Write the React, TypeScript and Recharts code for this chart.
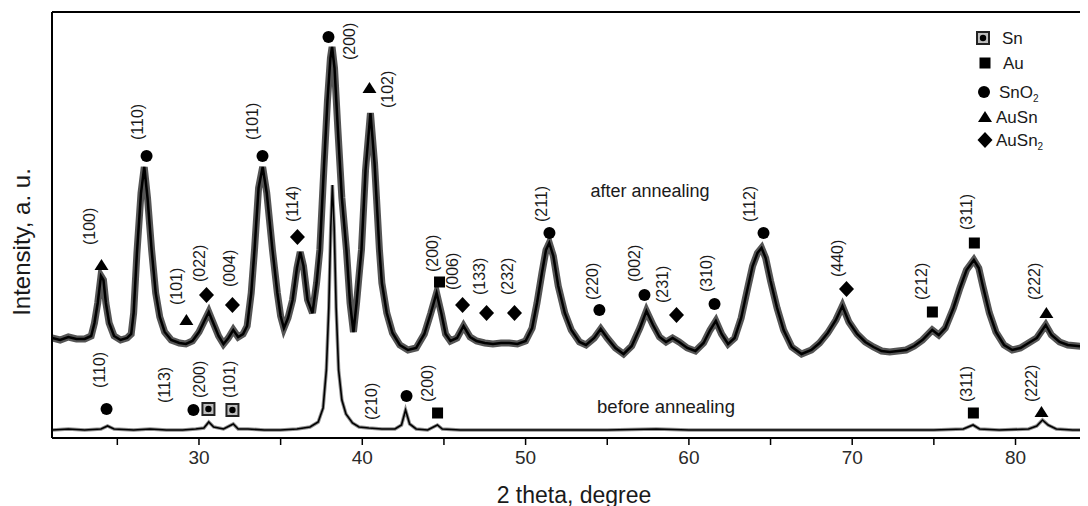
import React from 'react'
import {
  ComposedChart, Line, Scatter, XAxis, YAxis, ReferenceLine,
} from 'recharts'

// 2 theta (deg) vs intensity (a.u.)
const AFTER: [number, number][] = [
  [21.0, 100], [21.5, 98], [22.0, 101], [22.5, 99], [23.0, 99], [23.4, 102], [23.6, 115], [23.8, 135],
  [24.0, 162], [24.15, 158], [24.3, 135], [24.5, 115], [24.8, 102], [25.2, 98], [25.6, 100], [25.85, 104],
  [26.0, 125], [26.2, 185], [26.45, 245], [26.65, 271], [26.85, 240], [27.1, 188], [27.35, 145], [27.6, 121],
  [27.9, 106], [28.3, 98], [28.8, 95], [29.2, 94], [29.6, 97], [30.0, 106], [30.3, 116], [30.6, 126],
  [30.9, 114], [31.2, 102], [31.5, 94], [31.8, 100], [32.1, 108], [32.4, 101], [32.7, 104], [32.95, 112],
  [33.2, 145], [33.4, 188], [33.65, 250], [33.9, 271], [34.15, 245], [34.5, 188], [34.8, 145], [35.0, 122],
  [35.2, 110], [35.45, 120], [35.73, 138], [36.0, 170], [36.2, 186], [36.4, 172], [36.65, 138], [36.95, 125],
  [37.2, 155], [37.4, 188], [37.65, 270], [37.87, 338], [38.05, 380], [38.15, 391], [38.3, 370], [38.5, 310],
  [38.75, 240], [39.03, 188], [39.25, 135], [39.46, 106], [39.65, 135], [39.8, 162], [39.95, 188], [40.2, 268],
  [40.5, 325], [40.75, 275], [41.05, 188], [41.2, 155], [41.5, 125], [41.85, 105], [42.3, 93], [42.8, 88],
  [43.3, 90], [43.8, 104], [44.2, 125], [44.55, 145], [44.85, 124], [45.1, 104], [45.4, 97], [45.8, 100],
  [46.2, 112], [46.6, 101], [47.0, 97], [47.5, 95], [48.0, 94], [48.5, 95], [49.0, 95], [49.5, 94],
  [50.0, 97], [50.4, 110], [50.7, 135], [51.0, 165], [51.25, 188], [51.45, 195], [51.7, 182], [52.0, 152],
  [52.4, 125], [52.8, 108], [53.3, 96], [53.7, 93], [54.2, 100], [54.6, 109], [55.0, 100], [55.5, 90],
  [56.0, 84], [56.5, 92], [57.0, 110], [57.4, 127], [57.8, 113], [58.2, 101], [58.6, 96], [59.0, 100],
  [59.4, 96], [59.9, 90], [60.4, 87], [60.9, 95], [61.3, 108], [61.65, 117], [62.0, 104], [62.4, 94],
  [62.8, 100], [63.2, 120], [63.6, 150], [63.9, 172], [64.2, 185], [64.45, 190], [64.7, 180], [65.0, 157],
  [65.4, 130], [65.8, 108], [66.3, 91], [66.9, 84], [67.5, 88], [68.0, 95], [68.5, 105], [69.0, 118],
  [69.4, 132], [69.8, 116], [70.3, 104], [70.8, 96], [71.3, 91], [71.8, 87], [72.3, 86], [72.8, 87],
  [73.3, 88], [73.8, 92], [74.3, 98], [74.9, 108], [75.3, 103], [75.7, 110], [76.2, 130], [76.6, 150],
  [77.0, 168], [77.45, 178], [77.75, 170], [78.0, 152], [78.4, 125], [78.8, 106], [79.3, 93], [79.8, 88],
  [80.3, 90], [80.8, 95], [81.3, 100], [81.85, 113], [82.2, 103], [82.7, 96], [83.2, 93], [83.8, 92], [84.5, 91],
]

const BEFORE: [number, number][] = [
  [21, 8], [22, 9], [23, 8], [24, 9], [24.4, 12], [24.8, 9], [26, 8], [27, 9], [28, 8], [29, 8],
  [29.8, 9], [30.3, 10], [30.6, 16], [30.9, 11], [31.5, 9], [32.1, 14], [32.4, 9], [33, 9], [34, 8],
  [35, 8], [36, 9], [36.8, 11], [37.3, 16], [37.6, 30], [37.8, 68], [37.95, 130], [38.07, 210],
  [38.17, 253], [38.28, 210], [38.4, 130], [38.55, 68], [38.75, 38], [39.0, 24], [39.4, 15], [39.8, 11],
  [40.4, 10], [41.2, 9], [42.0, 9], [42.4, 13], [42.65, 28], [42.9, 14], [43.3, 9], [44.0, 8], [44.6, 13],
  [44.9, 9], [46, 8], [48, 8], [50, 8], [52, 8], [55, 8], [58, 9], [60, 8], [63, 8], [66, 8], [69, 8],
  [72, 8], [75, 8], [76.8, 9], [77.4, 13], [77.8, 9], [79, 8], [80.8, 9], [81.3, 12], [81.65, 18],
  [82.0, 13], [82.5, 9], [83.5, 8], [84.5, 8],
]

// peak markers: [2theta, intensity, phase, hkl]
const PEAKS: [number, number, string, string][] = [
  [24.03, 173, 'AuSn', '(100)'],
  [26.79, 282, 'SnO2', '(110)'],
  [29.23, 118, 'AuSn', '(101)'],
  [30.46, 143, 'AuSn2', '(022)'],
  [32.05, 133, 'AuSn2', '(004)'],
  [33.89, 282, 'SnO2', '(101)'],
  [36.03, 201, 'AuSn2', '(114)'],
  [37.93, 401, 'SnO2', '(200)'],
  [40.44, 350, 'AuSn', '(102)'],
  [44.73, 156, 'Au', '(200)'],
  [46.14, 133, 'AuSn2', '(006)'],
  [47.61, 125, 'AuSn2', '(133)'],
  [49.32, 125, 'AuSn2', '(232)'],
  [51.46, 205, 'SnO2', '(211)'],
  [54.52, 128, 'SnO2', '(220)'],
  [57.28, 143, 'SnO2', '(002)'],
  [59.24, 123, 'AuSn2', '(231)'],
  [61.57, 134, 'SnO2', '(310)'],
  [64.57, 205, 'SnO2', '(112)'],
  [69.65, 149, 'AuSn2', '(440)'],
  [74.91, 126, 'Au', '(212)'],
  [77.48, 195, 'Au', '(311)'],
  [81.89, 125, 'AuSn', '(222)'],
  [24.34, 29, 'SnO2', '(110)'],
  [29.66, 28, 'SnO2', '(113)'],
  [30.58, 29, 'Sn', '(200)'],
  [32.05, 28, 'Sn', '(101)'],
  [42.71, 42, 'SnO2', '(210)'],
  [44.61, 25, 'Au', '(200)'],
  [77.42, 25, 'Au', '(311)'],
  [81.59, 26, 'AuSn', '(222)'],
]

// label offset from marker (px), same order as PEAKS
const LABEL_OFFSETS: [number, number][] = [
  [-12, -20], [-9, -16], [-10, -15], [-7, -13], [-3, -18], [-10, -16], [-5, -15], [21, 23], [18, 20],
  [-7, -10], [-10, -15], [-7, -18], [-7, -18], [-8, -11], [-7, -10], [-10, -13], [-14, -12], [-8, -12],
  [-14, -11], [-9, -12], [-11, -12], [-8, -13], [-12, -13],
  [-7, -21], [-29, -7], [-9, -11], [-3, -12], [-35, 24], [-10, -11], [-7, -11], [-10, -10],
]

const PHASES = ['Sn', 'Au', 'SnO2', 'AuSn', 'AuSn2']
const X_TICKS = [25, 30, 35, 40, 45, 50, 55, 60, 65, 70, 75, 80]

const afterData = AFTER.map(([x, y]) => ({ x, y }))
const beforeData = BEFORE.map(([x, y]) => ({ x, y }))
const peakData = PEAKS.map(([x, y, phase, hkl], i) => ({ x, y, phase, hkl, i }))

const FONT = '"Liberation Sans", Arial, sans-serif'
const INK = '#1a1a1a'

function Marker({ phase, cx, cy }: { phase: string; cx: number; cy: number }) {
  switch (phase) {
    case 'Sn':
      return (
        <g>
          <rect x={cx - 6} y={cy - 6} width={12} height={12} fill="#bdbdbd" stroke="#222" strokeWidth={2} />
          <circle cx={cx} cy={cy} r={3.2} fill="#000" />
        </g>
      )
    case 'Au':
      return <rect x={cx - 5.5} y={cy - 5.5} width={11} height={11} fill="#000" />
    case 'SnO2':
      return <circle cx={cx} cy={cy} r={6} fill="#000" />
    case 'AuSn':
      return <path d={`M${cx},${cy - 6} L${cx + 7},${cy + 5} L${cx - 7},${cy + 5} Z`} fill="#000" />
    default:
      return <path d={`M${cx},${cy - 8} L${cx + 7.5},${cy} L${cx},${cy + 8} L${cx - 7.5},${cy} Z`} fill="#000" />
  }
}

function PeakShape(props: any) {
  const { cx, cy, payload } = props
  const [dx, dy] = LABEL_OFFSETS[payload.i]
  const lx = cx + dx
  const ly = cy + dy
  return (
    <g>
      <Marker phase={payload.phase} cx={cx} cy={cy} />
      <text x={lx} y={ly} transform={`rotate(-90 ${lx} ${ly})`} fontSize={16} fontFamily={FONT}
        fill={INK} dominantBaseline="central">{payload.hkl}</text>
    </g>
  )
}

function phaseName(p: string) {
  if (p.endsWith('2')) {
    return <>{p.slice(0, -1)}<tspan fontSize={10} dy={6}>2</tspan></>
  }
  return p
}

// legend row placement inside its own svg
const LEGEND_ROWS: [number, number, number][] = [
  [15, 12, 34], [17, 37, 35], [16, 66, 31], [17, 91, 28], [17, 114, 28],
]

function XrdLegend() {
  return (
    <svg width={110} height={132} style={{ position: 'absolute', left: 960, top: 18 }}>
      {PHASES.map((p, i) => {
        const [mx, my, tx] = LEGEND_ROWS[i]
        return (
          <g key={p}>
            <Marker phase={p} cx={mx} cy={my} />
            <text x={tx} y={my} fontSize={17} fontFamily={FONT} fill={INK} dominantBaseline="central">{phaseName(p)}</text>
          </g>
        )
      })}
    </svg>
  )
}

const overlay: React.CSSProperties = {
  position: 'absolute', fontFamily: FONT, color: INK, whiteSpace: 'nowrap',
  transform: 'translate(-50%, -50%)', lineHeight: 1,
}

export default function App() {
  return (
    <div style={{ position: 'relative', width: 1080, height: 498, overflow: 'hidden', background: '#fff' }}>
      <ComposedChart width={1081} height={498} margin={{ top: 4, right: 0, left: 0, bottom: 0 }}>
        <XAxis
          type="number" dataKey="x" domain={[21, 84.5]} ticks={X_TICKS} allowDataOverflow
          tickFormatter={(v) => (v % 10 === 0 ? String(v) : '')}
          tick={{ fontSize: 19, fill: '#2a2a2a', fontFamily: FONT }}
          tickSize={7} tickMargin={6} height={68}
          axisLine={{ stroke: '#000', strokeWidth: 2 }} tickLine={{ stroke: '#000', strokeWidth: 1.5 }}
        />
        <YAxis type="number" domain={[0, 426]} allowDataOverflow tick={false} tickLine={false} width={44}
          axisLine={{ stroke: '#000', strokeWidth: 2 }} />
        <ReferenceLine y={426} stroke="#000" strokeWidth={2} ifOverflow="visible" />
        <Line data={beforeData} dataKey="y" type="linear" stroke="#222" strokeWidth={3.5} strokeOpacity={0.5}
          dot={false} isAnimationActive={false} legendType="none" />
        <Line data={beforeData} dataKey="y" type="linear" stroke="#000" strokeWidth={1.6}
          dot={false} isAnimationActive={false} legendType="none" />
        <Line data={afterData} dataKey="y" type="linear" stroke="#1c1c1c" strokeWidth={7} strokeOpacity={0.75}
          dot={false} isAnimationActive={false} legendType="none" />
        <Line data={afterData} dataKey="y" type="linear" stroke="#000" strokeWidth={2.5}
          dot={false} isAnimationActive={false} legendType="none" />
        <Scatter data={peakData} dataKey="y" shape={PeakShape} isAnimationActive={false} legendType="none" />
      </ComposedChart>
      <XrdLegend />
      <div style={{ ...overlay, left: 642, top: 183, fontSize: 18 }}>after annealing</div>
      <div style={{ ...overlay, left: 658, top: 399, fontSize: 18.5 }}>before annealing</div>
      <div style={{ ...overlay, left: 14, top: 234, fontSize: 24, transform: 'translate(-50%, -50%) rotate(-90deg)' }}>
        Intensity, a. u.
      </div>
      <div style={{ ...overlay, left: 566, top: 487, fontSize: 23 }}>2 theta, degree</div>
    </div>
  )
}
